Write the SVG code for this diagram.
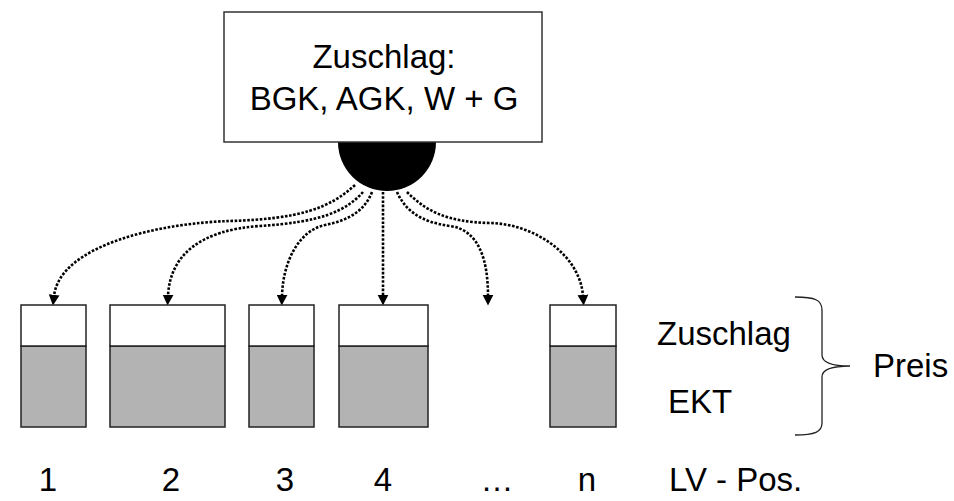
<svg xmlns="http://www.w3.org/2000/svg" width="954" height="501" viewBox="0 0 954 501">
<style>
text{font-family:"Liberation Sans",Arial,sans-serif;font-size:33px;fill:#000}
.bar-top{fill:#fff;stroke:#222;stroke-width:1.5}
.bar-bot{fill:#b3b3b3;stroke:#222;stroke-width:1.5}
.conn{fill:none;stroke:#000;stroke-width:2.6;stroke-dasharray:2.6 1.6;marker-end:url(#ah)}
.brace{fill:none;stroke:#222;stroke-width:1.3}
</style>
<defs>
<marker id="ah" markerUnits="userSpaceOnUse" markerWidth="12" markerHeight="12" viewBox="0 0 10 10" refX="1" refY="5" orient="auto">
<path d="M0,0.5 L9,5 L0,9.5 z" fill="#000"/>
</marker>
</defs>
<rect width="954" height="501" fill="#fff"/>
<g id="hub"><circle cx="387" cy="142" r="49" fill="#000"/></g>
<g id="zuschlag-box">
<rect x="224" y="12" width="318" height="130" fill="#fff" stroke="#333" stroke-width="1.5"/>
<text x="384" y="68" text-anchor="middle">Zuschlag:</text>
<text x="384" y="110" text-anchor="middle">BGK, AGK, W + G</text>
</g>
<g id="connectors">
<path class="conn" d="M355,185 C330,208 300,219 230,221 C160,223 60,245 54,296"/>
<path class="conn" d="M363,192 C345,212 320,222 260,226 C200,230 170,255 168,296"/>
<path class="conn" d="M372,192 C365,210 350,220 325,225 C300,230 283,260 282,296"/>
<path class="conn" d="M383,192 L383,296"/>
<path class="conn" d="M397,192 C405,210 420,222 450,226 C480,230 488,262 488,296"/>
<path class="conn" d="M407,192 C425,210 445,222 490,223 C535,224 580,255 583,296"/>
</g>
<g id="pos1"><rect class="bar-bot" x="21" y="346" width="65" height="81"/><rect class="bar-top" x="21" y="305" width="65" height="41"/></g>
<g id="pos2"><rect class="bar-bot" x="110" y="346" width="115" height="81"/><rect class="bar-top" x="110" y="305" width="115" height="41"/></g>
<g id="pos3"><rect class="bar-bot" x="249" y="346" width="65" height="81"/><rect class="bar-top" x="249" y="305" width="65" height="41"/></g>
<g id="pos4"><rect class="bar-bot" x="339" y="346" width="89" height="81"/><rect class="bar-top" x="339" y="305" width="89" height="41"/></g>
<g id="posn"><rect class="bar-bot" x="550" y="346" width="66" height="81"/><rect class="bar-top" x="550" y="305" width="66" height="41"/></g>
<g id="legend">
<text x="657" y="345">Zuschlag</text>
<text x="668" y="413">EKT</text>
<path class="brace" d="M795,297 C815,297 822,300 822,310 L822,355 C822,362 832,366 850,366 C832,366 822,370 822,377 L822,423 C822,432 815,435 795,435"/>
<text x="873" y="377">Preis</text>
</g>
<g id="labels">
<text x="48" y="491" text-anchor="middle">1</text>
<text x="171" y="491" text-anchor="middle">2</text>
<text x="285" y="491" text-anchor="middle">3</text>
<text x="383" y="491" text-anchor="middle">4</text>
<text x="497" y="491" text-anchor="middle">…</text>
<text x="587" y="491" text-anchor="middle">n</text>
<text x="669" y="491">LV - Pos.</text>
</g>
</svg>
